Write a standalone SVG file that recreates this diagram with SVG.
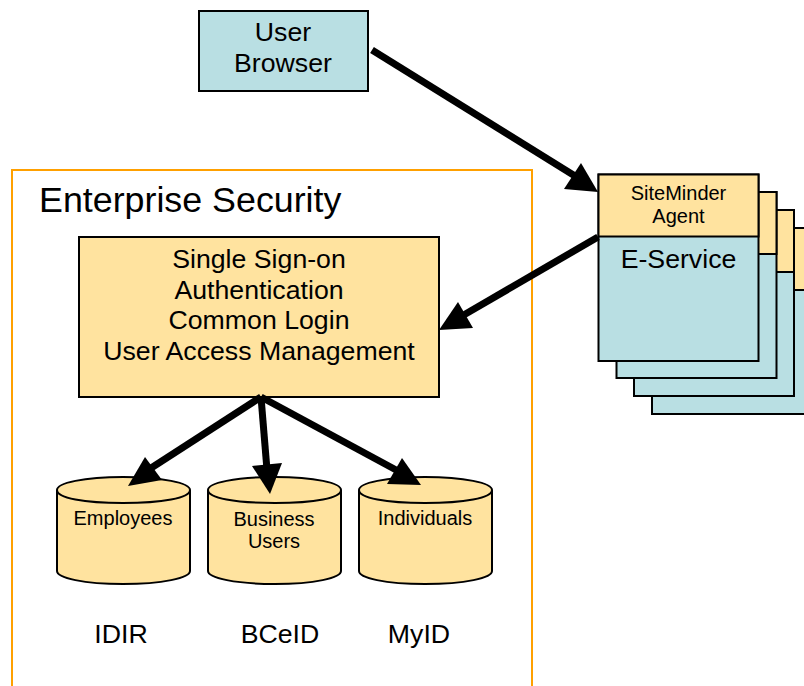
<svg xmlns="http://www.w3.org/2000/svg" width="804" height="686" viewBox="0 0 804 686">
<style>
text{font-family:"Liberation Sans",Arial,sans-serif;fill:#000;text-anchor:middle}
.y{fill:#ffe39f;stroke:#000;stroke-width:2}
.b{fill:#b9dfe3;stroke:#000;stroke-width:2}
.c{stroke:#000;stroke-width:7;fill:none}
.h{fill:#000;stroke:none}
.t26{font-size:26.700px}.t18{font-size:20px}
</style>
<rect width="804" height="686" fill="#fff"/>
<g id="enterprise-security">
<path d="M12 686V170H532V686" fill="none" stroke="#ffa000" stroke-width="2"/>
<text x="39" y="212" font-size="35.800" style="text-anchor:start">Enterprise Security</text>
</g>
<g id="user-browser">
<rect x="199" y="11" width="169" height="80" class="b"/>
<text x="283" y="41" class="t26">User</text>
<text x="283" y="72" class="t26">Browser</text>
</g>
<g id="eservice-4"><rect x="652" y="228" width="160" height="186" class="b"/><rect x="652" y="228" width="160" height="62" class="y"/></g>
<g id="eservice-3"><rect x="634" y="210" width="160" height="186" class="b"/><rect x="634" y="210" width="160" height="62" class="y"/></g>
<g id="eservice-2"><rect x="616.500" y="192" width="160" height="186" class="b"/><rect x="616.500" y="192" width="160" height="62" class="y"/></g>
<g id="eservice-1">
<rect x="598.500" y="174.500" width="160" height="186.500" class="b"/>
<rect x="598.500" y="174.500" width="160" height="62" class="y"/>
<text x="678.500" y="200" class="t18">SiteMinder</text>
<text x="678.500" y="223" class="t18">Agent</text>
<text x="678.500" y="268" class="t26">E-Service</text>
</g>
<g id="sso">
<rect x="79" y="237" width="360" height="160" class="y"/>
<text x="259" y="268" class="t26">Single Sign-on</text>
<text x="259" y="299" class="t26">Authentication</text>
<text x="259" y="329" class="t26">Common Login</text>
<text x="259" y="360" class="t26">User Access Management</text>
</g>
<g id="employees">
<path d="M57 490C57 483 84 477 123 477S190 483 190 490V571C190 578 162 584 123 584S57 578 57 571Z" class="y"/>
<path d="M57 490C57 498 84 503 123 503S190 498 190 490" class="y"/>
<text x="123" y="525" class="t18">Employees</text>
</g>
<g id="business-users">
<path d="M208 490C208 483 235 477 275 477S341 483 341 490V571C341 578 314 584 275 584S208 578 208 571Z" class="y"/>
<path d="M208 490C208 498 235 503 275 503S341 498 341 490" class="y"/>
<text x="274" y="526" class="t18">Business</text>
<text x="274" y="548" class="t18">Users</text>
</g>
<g id="individuals">
<path d="M359 490C359 483 386 477 425 477S492 483 492 490V571C492 578 465 584 425 584S359 578 359 571Z" class="y"/>
<path d="M359 490C359 498 386 503 425 503S492 498 492 490" class="y"/>
<text x="425" y="525" class="t18">Individuals</text>
</g>
<g id="labels">
<text x="121" y="643" class="t26">IDIR</text>
<text x="280" y="643" class="t26">BCeID</text>
<text x="419" y="643" class="t26">MyID</text>
</g>
<g id="connectors">
<line x1="372" y1="50" x2="575" y2="176" class="c"/><polygon points="598,192 564,189 581,163" class="h"/>
<line x1="598" y1="237" x2="462" y2="316" class="c"/><polygon points="439,330 458,302 473,328" class="h"/>
<line x1="261" y1="397" x2="148" y2="470" class="c"/><polygon points="128,486 145,457 162,480" class="h"/>
<line x1="261" y1="397" x2="267" y2="470" class="c"/><polygon points="270,494 252,466 282,463" class="h"/>
<line x1="261" y1="397" x2="398" y2="471" class="c"/><polygon points="421,485 387,484 402,458" class="h"/>
</g>
</svg>
